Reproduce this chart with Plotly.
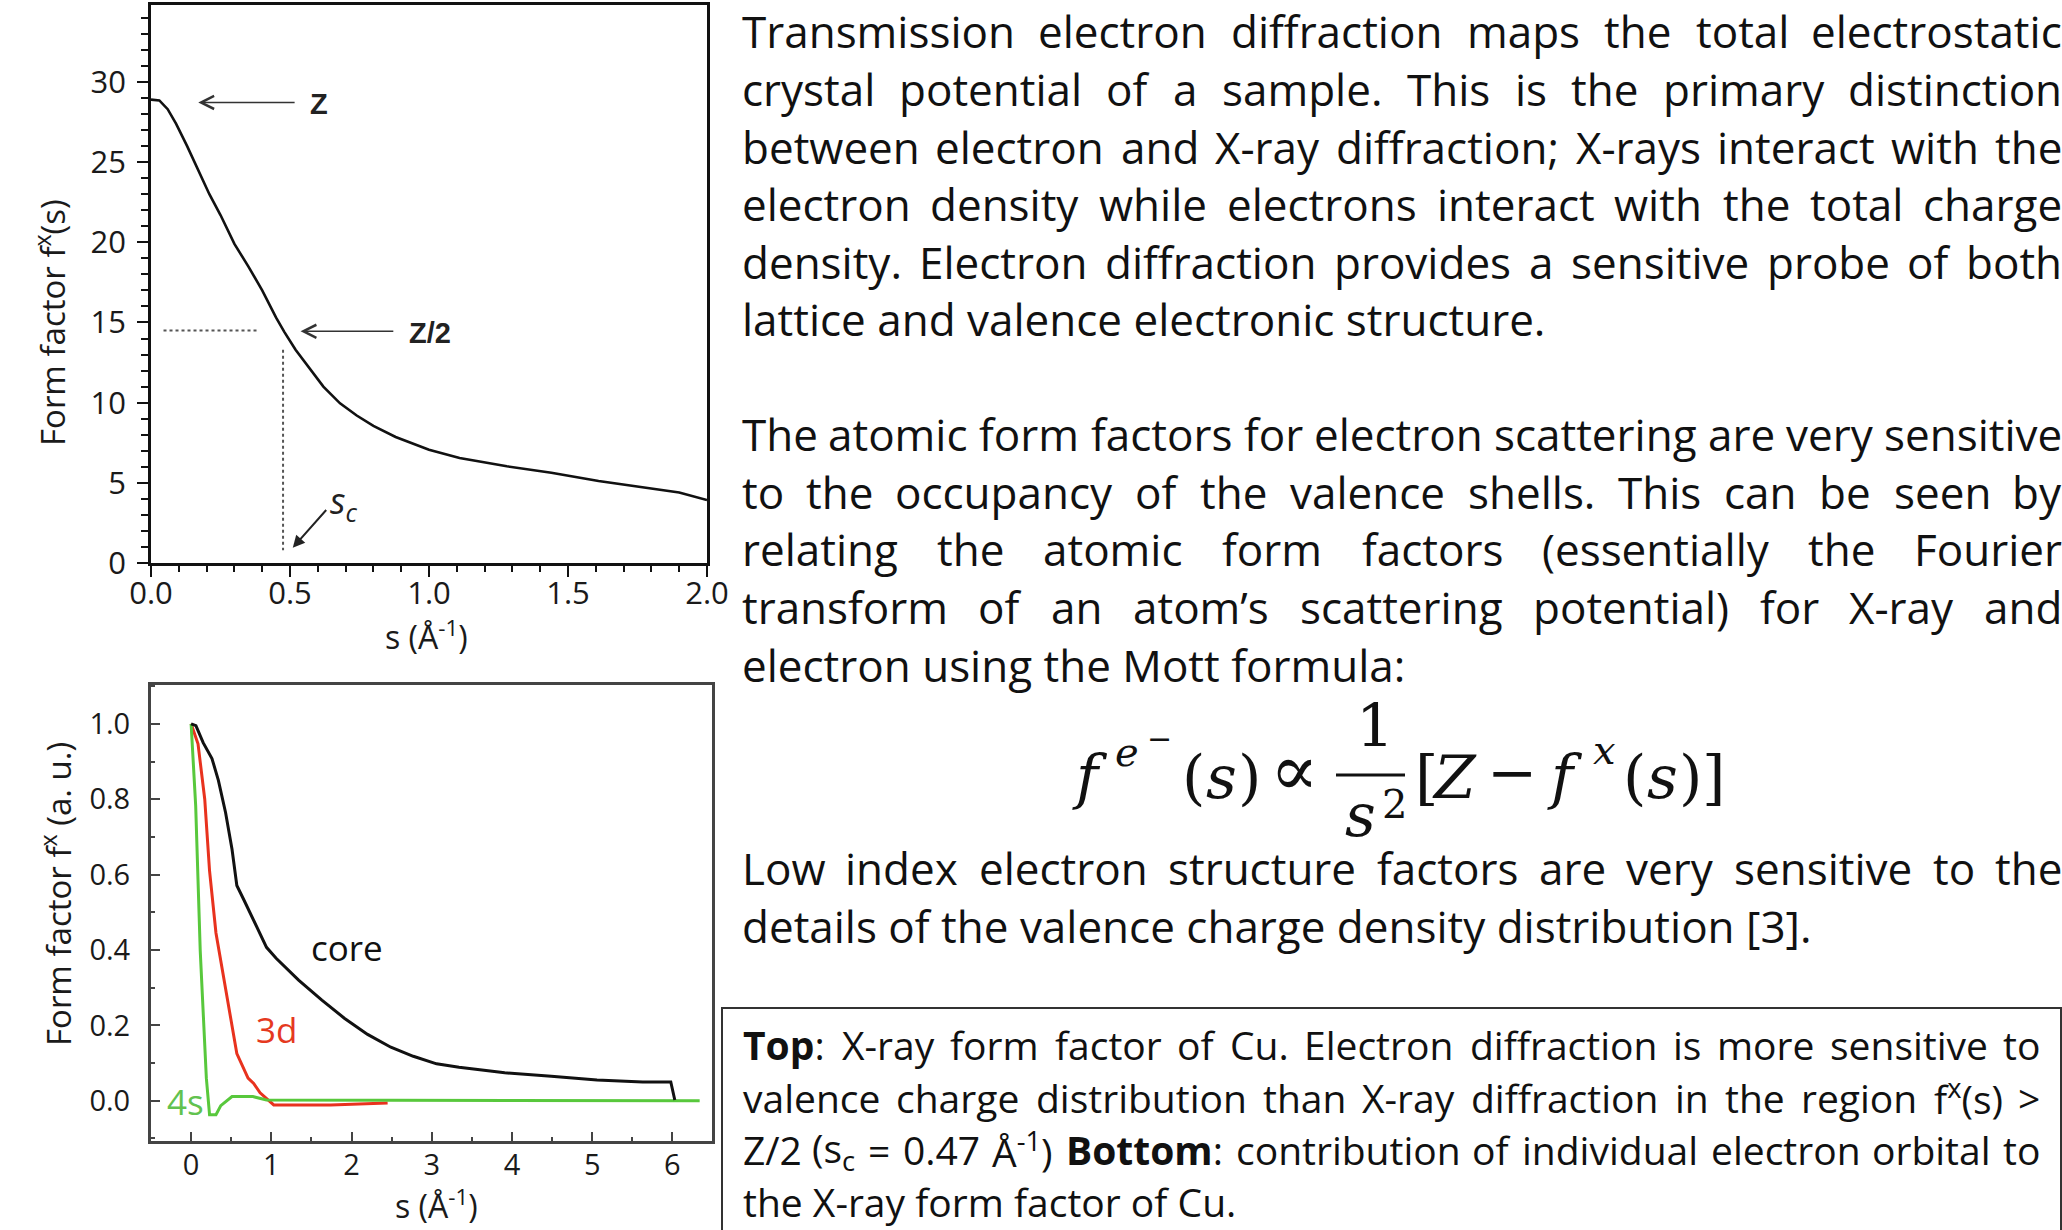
import re
import plotly.graph_objects as go

# ---------------- data ----------------
# Top panel: X-ray form factor of Cu
s_top = [0.00, 0.03, 0.06, 0.09, 0.13, 0.17, 0.21, 0.25, 0.30, 0.35, 0.40, 0.45, 0.48,
         0.52, 0.56, 0.62, 0.68, 0.74, 0.80, 0.88, 1.00, 1.11, 1.28, 1.44, 1.61, 1.77,
         1.90, 2.00]
fx_top = [28.9, 28.85, 28.3, 27.4, 26.0, 24.5, 23.0, 21.7, 19.9, 18.5, 17.0, 15.3, 14.4,
          13.3, 12.4, 11.0, 9.96, 9.2, 8.55, 7.86, 7.07, 6.55, 6.03, 5.63, 5.11, 4.72,
          4.4, 3.93]
top_yticks = [0, 5, 10, 15, 20, 25, 30]
top_xticks = [0.0, 0.5, 1.0, 1.5, 2.0]
top_xticktext = ["0.0", "0.5", "1.0", "1.5", "2.0"]
Z_half = 14.5
s_c = 0.47

# Bottom panel: orbital contributions
s_core = [0.00, 0.06, 0.15, 0.26, 0.34, 0.43, 0.51, 0.57, 0.66, 0.77, 0.94, 1.06, 1.34,
          1.63, 1.91, 2.20, 2.49, 2.77, 3.06, 3.34, 3.91, 4.49, 5.06, 5.63, 5.98, 6.03]
f_core = [1.00, 0.995, 0.95, 0.908, 0.85, 0.764, 0.667, 0.571, 0.532, 0.484, 0.407, 0.378,
          0.32, 0.267, 0.219, 0.176, 0.142, 0.118, 0.098, 0.089, 0.074, 0.065, 0.055,
          0.05, 0.05, 0.002]
s_3d = [0.00, 0.086, 0.17, 0.23, 0.31, 0.43, 0.54, 0.57, 0.71, 0.78, 0.86, 0.94, 1.03,
        1.74, 2.45]
f_3d = [1.00, 0.947, 0.80, 0.61, 0.445, 0.30, 0.166, 0.125, 0.06, 0.046, 0.021, 0.007,
        -0.011, -0.011, -0.006]
s_4s = [0.00, 0.057, 0.114, 0.19, 0.23, 0.31, 0.37, 0.51, 0.77, 0.94, 6.34]
f_4s = [1.00, 0.783, 0.397, 0.06, -0.037, -0.037, -0.013, 0.011, 0.011, 0.002, 0.0]
bot_yticks = [0.0, 0.2, 0.4, 0.6, 0.8, 1.0]
bot_yticktext = ["0.0", "0.2", "0.4", "0.6", "0.8", "1.0"]
bot_xticks = [0, 1, 2, 3, 4, 5, 6]

# Text content
para1 = ["Transmission electron diffraction maps the total electrostatic",
         "crystal potential of a sample. This is the primary distinction",
         "between electron and X-ray diffraction;  X-rays interact with the",
         "electron density while electrons interact with the total charge",
         "density. Electron diffraction provides a sensitive probe of both",
         "lattice and valence electronic structure."]
para2 = ["The atomic form factors for electron scattering are very sensitive",
         "to the occupancy of the valence shells. This can be seen by",
         "relating the atomic form factors (essentially the Fourier",
         "transform of an atom’s scattering potential) for X-ray and",
         "electron using the Mott formula:"]
para3 = ["Low index electron structure factors are very sensitive to the",
         "details of the valence charge density distribution [3]."]
caption = ["<b>Top</b>: X-ray form factor of Cu. Electron diffraction is more sensitive to",
           "valence charge distribution than X-ray diffraction in the region f<sup>x</sup>(s) >",
           "Z/2 (s<sub>c</sub> = 0.47 Å<sup>-1</sup>) <b>Bottom</b>: contribution of individual electron orbital to",
           "the X-ray form factor of Cu."]

# ---------------- helpers ----------------
W, H = 2062, 1230


def px(x):
    return x / W


def py(y):
    return 1 - y / H


OS = {' ': 0.26, 'a': 0.556, 'b': 0.613, 'c': 0.476, 'd': 0.613, 'e': 0.561, 'f': 0.339,
      'g': 0.548, 'h': 0.614, 'i': 0.253, 'j': 0.253, 'k': 0.524, 'l': 0.253, 'm': 0.930,
      'n': 0.614, 'o': 0.604, 'p': 0.613, 'q': 0.613, 'r': 0.408, 's': 0.477, 't': 0.353,
      'u': 0.614, 'v': 0.501, 'w': 0.778, 'x': 0.524, 'y': 0.502, 'z': 0.462,
      'A': 0.633, 'B': 0.648, 'C': 0.631, 'D': 0.729, 'E': 0.556, 'F': 0.516, 'L': 0.519,
      'M': 0.907, 'T': 0.542, 'X': 0.559, 'Z': 0.549, 'Å': 0.633,
      '.': 0.266, ',': 0.245, ';': 0.266, ':': 0.266, '-': 0.322, '(': 0.282, ')': 0.282,
      '[': 0.331, ']': 0.331, '’': 0.175, '>': 0.572, '=': 0.572, '/': 0.371}
for d in '0123456789':
    OS[d] = 0.572


def word_em(word):
    total, scale, bold = 0.0, 1.0, False
    for tok in re.split(r'(<[^>]+>)', word):
        if tok.startswith('<'):
            closing = tok.startswith('</')
            tag = tok.strip('<>/').lower()
            if tag in ('sup', 'sub'):
                scale = 1.0 if closing else 0.7
            elif tag == 'b':
                bold = not closing
            continue
        for ch in tok:
            total += OS.get(ch, 0.55) * scale * (1.09 if bold else 1.0)
    return total


annotations = []
TEXT_COLOR = '#111111'


def txt(text, x, y, size, xanchor='center', yanchor='middle', family='Open Sans',
        color=TEXT_COLOR, **kw):
    d = dict(text=text, x=px(x), y=py(y), xref='paper', yref='paper', xanchor=xanchor,
             yanchor=yanchor, showarrow=False, borderpad=0,
             font=dict(family=family, size=size, color=color))
    d.update(kw)
    return d


def add_line(text, baseline, size, x_left, x_right, justify):
    yc = baseline - 0.388 * size
    if not justify:
        annotations.append(txt(text, x_left, yc, size, xanchor='left'))
        return
    words = text.split()
    widths = [word_em(w) * size for w in words]
    gap = (x_right - x_left - sum(widths)) / (len(words) - 1)
    x = x_left
    n = len(words)
    for i, (w, wd) in enumerate(zip(words, widths)):
        if i == 0:
            annotations.append(txt(w, x_left, yc, size, xanchor='left'))
        elif i == n - 1:
            annotations.append(txt(w, x_right, yc, size, xanchor='right'))
        else:
            annotations.append(txt(w, x + wd / 2, yc, size, xanchor='center'))
        x += wd + gap


def add_par(lines, baselines, size, x_left, x_right):
    for i, (t, b) in enumerate(zip(lines, baselines)):
        add_line(t, b, size, x_left, x_right, i < len(lines) - 1)


add_par(para1, [48.5, 106.1, 163.7, 221.3, 278.9, 336.5], 44, 741, 2063)
add_par(para2, [451, 508.7, 566.4, 624.1, 681.8], 44, 741, 2063)
add_par(para3, [885, 943], 44, 741, 2063)
add_par(caption, [1060, 1112.5, 1165, 1216.5], 39, 742, 2041)

# formula pieces (text, x center, y center, size)
formula = [("<i>f</i>", 1090, 777, 60), ("<i>e</i>", 1127, 752, 40), ("−", 1159, 738, 30),
           ("(", 1193, 777, 60), ("<i>s</i>", 1221, 777, 60), (")", 1249, 777, 60),
           ("∝", 1294, 770, 72), ("1", 1375, 726, 60), ("<i>s</i>", 1360, 815, 60),
           ("2", 1394, 804, 40), ("[", 1426, 777, 60), ("<i>Z</i>", 1454, 777, 60),
           ("−", 1512, 772, 60), ("<i>f</i>", 1565, 777, 60), ("<i>x</i>", 1604, 750, 40),
           ("(", 1634, 777, 60), ("<i>s</i>", 1662, 777, 60), (")", 1690, 777, 60),
           ("]", 1713, 777, 60)]
for t, xc, yc, sz in formula:
    annotations.append(txt(t, xc, yc, sz, family='DejaVu Serif'))

# axis titles
annotations += [
    txt('Form factor f<sup>x</sup>(s)', 51, 323, 33, textangle=-90, color='#1a1a1a'),
    txt('s (Å<sup>-1</sup>)', 426, 635, 32, color='#1a1a1a'),
    txt('Form factor f<sup>x</sup> (a. u.)', 56, 894, 33, textangle=-90, color='#1a1a1a'),
    txt('s (Å<sup>-1</sup>)', 436, 1204, 32, color='#1a1a1a'),
]

# top-panel arrows and labels
lab_font = dict(family='Liberation Sans', size=29, color='#222222')
annotations += [
    dict(x=0.17, y=28.72, ax=0.522, ay=28.72, xref='x', yref='y', axref='x', ayref='y',
         text='', showarrow=True, arrowhead=5, arrowsize=1.6, arrowwidth=1.6,
         arrowcolor='#333333'),
    dict(x=0.604, y=28.6, xref='x', yref='y', text='<b>Z</b>', showarrow=False,
         font=lab_font),
    dict(x=0.538, y=14.45, ax=0.877, ay=14.45, xref='x', yref='y', axref='x', ayref='y',
         text='', showarrow=True, arrowhead=5, arrowsize=1.6, arrowwidth=1.6,
         arrowcolor='#333333'),
    dict(x=1.004, y=14.35, xref='x', yref='y', text='<b>Z/2</b>', showarrow=False,
         font=lab_font),
    dict(x=0.51, y=0.95, ax=0.635, ay=3.4, xref='x', yref='y', axref='x', ayref='y',
         text='', showarrow=True, arrowhead=2, arrowsize=1.2, arrowwidth=2,
         arrowcolor='#222222'),
    dict(x=0.694, y=3.8, xref='x', yref='y', text='<i>s<sub>c</sub></i>', showarrow=False,
         font=dict(family='Open Sans', size=36, color='#222222')),
]

# bottom-panel labels
annotations += [
    dict(x=1.94, y=0.407, xref='x2', yref='y2', text='core', showarrow=False,
         font=dict(family='Open Sans', size=35, color='#111111')),
    dict(x=1.06, y=0.19, xref='x2', yref='y2', text='3d', showarrow=False,
         font=dict(family='Open Sans', size=35, color='#e5391f')),
    dict(x=-0.07, y=-0.003, xref='x2', yref='y2', text='4s', showarrow=False,
         font=dict(family='Open Sans', size=35, color='#62c24f')),
]

# ---------------- figure ----------------
fig = go.Figure()
fig.add_trace(go.Scatter(x=s_top, y=fx_top, mode='lines', line=dict(color='#111111', width=2.6),
                         xaxis='x', yaxis='y', showlegend=False))
fig.add_trace(go.Scatter(x=[0.045, 0.38], y=[Z_half, Z_half], mode='lines',
                         line=dict(color='#555555', width=2, dash='dot'),
                         xaxis='x', yaxis='y', showlegend=False))
fig.add_trace(go.Scatter(x=[s_c + 0.005, s_c + 0.005], y=[13.3, 0.8], mode='lines',
                         line=dict(color='#555555', width=2, dash='dot'),
                         xaxis='x', yaxis='y', showlegend=False))

fig.add_trace(go.Scatter(x=s_3d, y=f_3d, mode='lines', line=dict(color='#e8321e', width=3),
                         xaxis='x2', yaxis='y2', showlegend=False))
fig.add_trace(go.Scatter(x=s_4s, y=f_4s, mode='lines', line=dict(color='#58c83c', width=3),
                         xaxis='x2', yaxis='y2', showlegend=False))
fig.add_trace(go.Scatter(x=s_core, y=f_core, mode='lines', line=dict(color='#111111', width=3),
                         xaxis='x2', yaxis='y2', showlegend=False))

top_tick_font = dict(family='Open Sans', size=31, color='#1a1a1a')
bot_tick_font = dict(family='Open Sans', size=29, color='#1a1a1a')
fig.update_layout(
    width=W, height=H, margin=dict(l=0, r=0, t=0, b=0, autoexpand=False),
    paper_bgcolor='white', plot_bgcolor='white',
    font=dict(family='Open Sans'),
    xaxis=dict(domain=[px(151), px(707)], range=[0, 2.0], anchor='y',
               tickvals=top_xticks, ticktext=top_xticktext, ticks='outside', ticklen=11,
               tickwidth=2, tickcolor='#111111', tickfont=top_tick_font,
               minor=dict(dtick=0.1, ticks='outside', ticklen=6, tickwidth=2,
                          tickcolor='#111111'),
               showline=True, linewidth=2.6, linecolor='#111111', mirror=True,
               showgrid=False, zeroline=False, ticklabelstandoff=-10, automargin=False),
    yaxis=dict(domain=[py(563), py(5)], range=[0, 34.8], anchor='x',
               tickvals=top_yticks, ticks='outside', ticklen=11, tickwidth=2,
               tickcolor='#111111', tickfont=top_tick_font,
               minor=dict(dtick=1, ticks='outside', ticklen=7, tickwidth=2,
                          tickcolor='#111111'),
               showline=True, linewidth=2.6, linecolor='#111111', mirror=True,
               showgrid=False, zeroline=False, ticklabelstandoff=5, automargin=False),
    xaxis2=dict(domain=[px(151), px(711.7)], range=[-0.5, 6.49], anchor='y2',
                tickvals=bot_xticks, ticks='inside', ticklen=9, tickwidth=2,
                tickcolor='#444444', tickfont=bot_tick_font,
                minor=dict(dtick=0.5, ticks='inside', ticklen=4, tickwidth=2,
                           tickcolor='#444444'),
                showline=True, linewidth=3, linecolor='#444444', mirror=True,
                showgrid=False, zeroline=False, ticklabelstandoff=-4, automargin=False),
    yaxis2=dict(domain=[py(1140.7), py(685)], range=[-0.106, 1.103], anchor='x2',
                tickvals=bot_yticks, ticktext=bot_yticktext, ticks='inside', ticklen=9,
                tickwidth=2, tickcolor='#444444', tickfont=bot_tick_font,
                minor=dict(dtick=0.1, ticks='inside', ticklen=4, tickwidth=2,
                           tickcolor='#444444'),
                showline=True, linewidth=3, linecolor='#444444', mirror=True,
                showgrid=False, zeroline=False, ticklabelstandoff=12, automargin=False),
    annotations=annotations,
    shapes=[dict(type='rect', xref='paper', yref='paper', x0=px(722), x1=px(2061),
                 y0=py(1240), y1=py(1008), line=dict(color='#333333', width=2))],
)

# fraction bar of the Mott formula
fig.add_shape(type='line', xref='paper', yref='paper', x0=px(1336), x1=px(1405),
              y0=py(775), y1=py(775), line=dict(color='#111111', width=3))

fig.write_html("out.html")
